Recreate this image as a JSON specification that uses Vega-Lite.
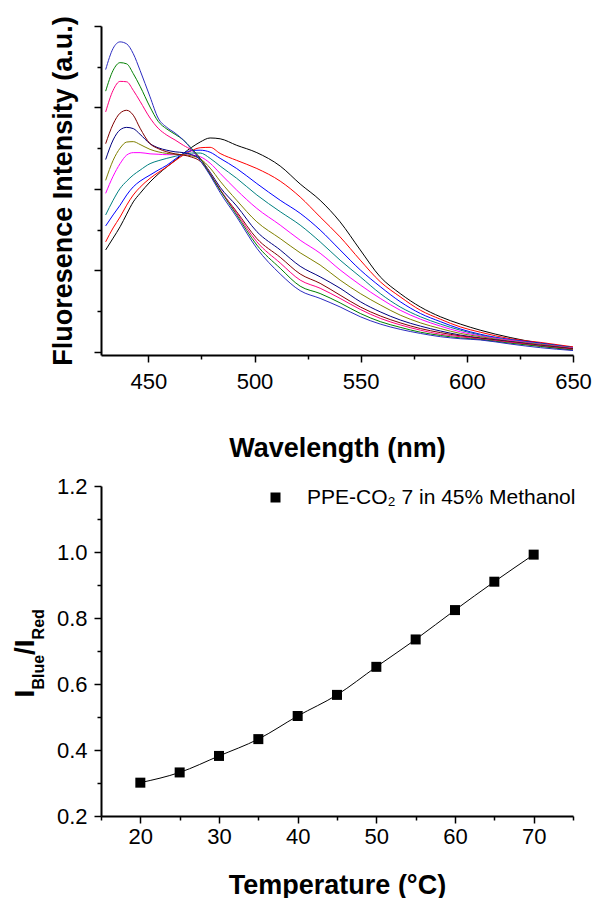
{
"$schema": "https://vega.github.io/schema/vega-lite/v6.json",
"padding": {"left": 11, "top": 15, "right": 0, "bottom": 0},
"background": "white",
"bounds": "flush",
"spacing": 131,
"resolve": {"scale": {"color": "independent"}, "legend": {"color": "independent"}},
"config": {
  "view": {"stroke": null},
  "font": "Liberation Sans",
  "axis": {"grid": false, "domainColor": "black", "domainWidth": 2, "tickColor": "black", "tickWidth": 1.5, "labelFont": "Liberation Sans", "labelFontSize": 22, "labelColor": "black", "titleFont": "Liberation Sans", "titleFontSize": 27, "titleFontWeight": "bold", "titleColor": "black"}
},
"vconcat": [
{
  "width": 472, "height": 329,
  "data": {"values": [
{"c":"s1","w":429.9,"v":2.50},{"c":"s1","w":433.4,"v":2.79},{"c":"s1","w":436.7,"v":3.07},{"c":"s1","w":439.8,"v":3.38},{"c":"s1","w":442.9,"v":3.68},{"c":"s1","w":446.1,"v":3.89},{"c":"s1","w":450.8,"v":4.17},{"c":"s1","w":454.6,"v":4.36},{"c":"s1","w":458.7,"v":4.54},{"c":"s1","w":462.6,"v":4.70},{"c":"s1","w":466.5,"v":4.87},{"c":"s1","w":470.4,"v":5.02},{"c":"s1","w":474.4,"v":5.15},{"c":"s1","w":479.1,"v":5.25},{"c":"s1","w":483.8,"v":5.23},{"c":"s1","w":491.6,"v":5.07},{"c":"s1","w":501.1,"v":4.89},{"c":"s1","w":512.1,"v":4.56},{"c":"s1","w":521.5,"v":4.12},{"c":"s1","w":530.9,"v":3.72},{"c":"s1","w":540.3,"v":3.19},{"c":"s1","w":549.8,"v":2.50},{"c":"s1","w":559.2,"v":1.84},{"c":"s1","w":568.6,"v":1.43},{"c":"s1","w":578.1,"v":1.10},{"c":"s1","w":587.5,"v":0.86},{"c":"s1","w":596.9,"v":0.68},{"c":"s1","w":606.3,"v":0.53},{"c":"s1","w":620.4,"v":0.35},{"c":"s1","w":634.6,"v":0.21},{"c":"s1","w":650,"v":0.11},
{"c":"s2","w":429.9,"v":2.70},{"c":"s2","w":433.4,"v":3.04},{"c":"s2","w":436.7,"v":3.31},{"c":"s2","w":439.8,"v":3.60},{"c":"s2","w":442.9,"v":3.85},{"c":"s2","w":446.1,"v":4.04},{"c":"s2","w":450.8,"v":4.26},{"c":"s2","w":454.6,"v":4.40},{"c":"s2","w":458.7,"v":4.54},{"c":"s2","w":462.6,"v":4.69},{"c":"s2","w":466.5,"v":4.83},{"c":"s2","w":470.4,"v":4.94},{"c":"s2","w":474.4,"v":5.01},{"c":"s2","w":479.1,"v":5.02},{"c":"s2","w":483.8,"v":4.87},{"c":"s2","w":491.6,"v":4.70},{"c":"s2","w":501.1,"v":4.50},{"c":"s2","w":512.1,"v":4.19},{"c":"s2","w":521.5,"v":3.80},{"c":"s2","w":530.9,"v":3.31},{"c":"s2","w":540.3,"v":2.82},{"c":"s2","w":549.8,"v":2.25},{"c":"s2","w":559.2,"v":1.72},{"c":"s2","w":568.6,"v":1.35},{"c":"s2","w":578.1,"v":1.02},{"c":"s2","w":587.5,"v":0.80},{"c":"s2","w":596.9,"v":0.61},{"c":"s2","w":606.3,"v":0.48},{"c":"s2","w":620.4,"v":0.32},{"c":"s2","w":634.6,"v":0.23},{"c":"s2","w":650,"v":0.12},
{"c":"s3","w":429.9,"v":3.09},{"c":"s3","w":433.4,"v":3.36},{"c":"s3","w":436.7,"v":3.60},{"c":"s3","w":439.8,"v":3.85},{"c":"s3","w":442.9,"v":4.05},{"c":"s3","w":446.1,"v":4.19},{"c":"s3","w":450.8,"v":4.34},{"c":"s3","w":454.6,"v":4.46},{"c":"s3","w":458.7,"v":4.58},{"c":"s3","w":462.6,"v":4.73},{"c":"s3","w":466.5,"v":4.87},{"c":"s3","w":470.4,"v":4.94},{"c":"s3","w":474.4,"v":4.95},{"c":"s3","w":479.1,"v":4.90},{"c":"s3","w":483.8,"v":4.75},{"c":"s3","w":491.6,"v":4.50},{"c":"s3","w":501.1,"v":4.13},{"c":"s3","w":512.1,"v":3.72},{"c":"s3","w":521.5,"v":3.40},{"c":"s3","w":530.9,"v":2.99},{"c":"s3","w":540.3,"v":2.50},{"c":"s3","w":549.8,"v":2.01},{"c":"s3","w":559.2,"v":1.60},{"c":"s3","w":568.6,"v":1.23},{"c":"s3","w":578.1,"v":0.94},{"c":"s3","w":587.5,"v":0.74},{"c":"s3","w":596.9,"v":0.56},{"c":"s3","w":606.3,"v":0.43},{"c":"s3","w":620.4,"v":0.30},{"c":"s3","w":634.6,"v":0.21},{"c":"s3","w":650,"v":0.10},
{"c":"s4","w":429.9,"v":3.36},{"c":"s4","w":433.4,"v":3.72},{"c":"s4","w":436.7,"v":4.01},{"c":"s4","w":439.8,"v":4.19},{"c":"s4","w":442.9,"v":4.34},{"c":"s4","w":446.1,"v":4.46},{"c":"s4","w":450.8,"v":4.62},{"c":"s4","w":454.6,"v":4.69},{"c":"s4","w":458.7,"v":4.75},{"c":"s4","w":462.6,"v":4.80},{"c":"s4","w":466.5,"v":4.85},{"c":"s4","w":470.4,"v":4.88},{"c":"s4","w":474.4,"v":4.88},{"c":"s4","w":479.1,"v":4.75},{"c":"s4","w":483.8,"v":4.56},{"c":"s4","w":491.6,"v":4.26},{"c":"s4","w":501.1,"v":3.85},{"c":"s4","w":512.1,"v":3.44},{"c":"s4","w":521.5,"v":3.11},{"c":"s4","w":530.9,"v":2.70},{"c":"s4","w":540.3,"v":2.25},{"c":"s4","w":549.8,"v":1.84},{"c":"s4","w":559.2,"v":1.43},{"c":"s4","w":568.6,"v":1.10},{"c":"s4","w":578.1,"v":0.86},{"c":"s4","w":587.5,"v":0.68},{"c":"s4","w":596.9,"v":0.53},{"c":"s4","w":606.3,"v":0.41},{"c":"s4","w":620.4,"v":0.29},{"c":"s4","w":634.6,"v":0.20},{"c":"s4","w":650,"v":0.10},
{"c":"s5","w":429.9,"v":3.89},{"c":"s5","w":433.4,"v":4.31},{"c":"s5","w":436.7,"v":4.62},{"c":"s5","w":439.8,"v":4.83},{"c":"s5","w":442.9,"v":4.89},{"c":"s5","w":446.1,"v":4.89},{"c":"s5","w":450.8,"v":4.86},{"c":"s5","w":454.6,"v":4.85},{"c":"s5","w":458.7,"v":4.84},{"c":"s5","w":462.6,"v":4.84},{"c":"s5","w":466.5,"v":4.84},{"c":"s5","w":470.4,"v":4.83},{"c":"s5","w":474.4,"v":4.79},{"c":"s5","w":479.1,"v":4.63},{"c":"s5","w":483.8,"v":4.38},{"c":"s5","w":491.6,"v":3.97},{"c":"s5","w":501.1,"v":3.52},{"c":"s5","w":512.1,"v":3.11},{"c":"s5","w":521.5,"v":2.74},{"c":"s5","w":530.9,"v":2.42},{"c":"s5","w":540.3,"v":2.01},{"c":"s5","w":549.8,"v":1.64},{"c":"s5","w":559.2,"v":1.31},{"c":"s5","w":568.6,"v":1.02},{"c":"s5","w":578.1,"v":0.80},{"c":"s5","w":587.5,"v":0.63},{"c":"s5","w":596.9,"v":0.49},{"c":"s5","w":606.3,"v":0.39},{"c":"s5","w":620.4,"v":0.28},{"c":"s5","w":634.6,"v":0.19},{"c":"s5","w":650,"v":0.09},
{"c":"s6","w":429.9,"v":4.21},{"c":"s6","w":433.4,"v":4.70},{"c":"s6","w":436.7,"v":5.00},{"c":"s6","w":439.8,"v":5.15},{"c":"s6","w":442.9,"v":5.16},{"c":"s6","w":446.1,"v":5.09},{"c":"s6","w":450.8,"v":4.97},{"c":"s6","w":454.6,"v":4.91},{"c":"s6","w":458.7,"v":4.87},{"c":"s6","w":462.6,"v":4.85},{"c":"s6","w":466.5,"v":4.84},{"c":"s6","w":470.4,"v":4.81},{"c":"s6","w":474.4,"v":4.74},{"c":"s6","w":479.1,"v":4.51},{"c":"s6","w":483.8,"v":4.19},{"c":"s6","w":491.6,"v":3.72},{"c":"s6","w":501.1,"v":3.19},{"c":"s6","w":512.1,"v":2.78},{"c":"s6","w":521.5,"v":2.43},{"c":"s6","w":530.9,"v":2.13},{"c":"s6","w":540.3,"v":1.76},{"c":"s6","w":549.8,"v":1.43},{"c":"s6","w":559.2,"v":1.15},{"c":"s6","w":568.6,"v":0.90},{"c":"s6","w":578.1,"v":0.71},{"c":"s6","w":587.5,"v":0.57},{"c":"s6","w":596.9,"v":0.45},{"c":"s6","w":606.3,"v":0.37},{"c":"s6","w":620.4,"v":0.26},{"c":"s6","w":634.6,"v":0.18},{"c":"s6","w":650,"v":0.08},
{"c":"s7","w":429.9,"v":4.72},{"c":"s7","w":433.4,"v":5.20},{"c":"s7","w":436.7,"v":5.45},{"c":"s7","w":439.8,"v":5.51},{"c":"s7","w":442.9,"v":5.48},{"c":"s7","w":446.1,"v":5.34},{"c":"s7","w":450.8,"v":5.11},{"c":"s7","w":454.6,"v":5.01},{"c":"s7","w":458.7,"v":4.95},{"c":"s7","w":462.6,"v":4.91},{"c":"s7","w":466.5,"v":4.89},{"c":"s7","w":470.4,"v":4.84},{"c":"s7","w":474.4,"v":4.73},{"c":"s7","w":479.1,"v":4.41},{"c":"s7","w":483.8,"v":4.04},{"c":"s7","w":491.6,"v":3.58},{"c":"s7","w":501.1,"v":2.95},{"c":"s7","w":512.1,"v":2.50},{"c":"s7","w":521.5,"v":2.10},{"c":"s7","w":530.9,"v":1.84},{"c":"s7","w":540.3,"v":1.56},{"c":"s7","w":549.8,"v":1.23},{"c":"s7","w":559.2,"v":0.98},{"c":"s7","w":568.6,"v":0.78},{"c":"s7","w":578.1,"v":0.63},{"c":"s7","w":587.5,"v":0.51},{"c":"s7","w":596.9,"v":0.41},{"c":"s7","w":606.3,"v":0.34},{"c":"s7","w":620.4,"v":0.25},{"c":"s7","w":634.6,"v":0.16},{"c":"s7","w":650,"v":0.07},
{"c":"s8","w":429.9,"v":5.11},{"c":"s8","w":433.4,"v":5.59},{"c":"s8","w":436.7,"v":5.86},{"c":"s8","w":439.8,"v":5.93},{"c":"s8","w":442.9,"v":5.81},{"c":"s8","w":446.1,"v":5.49},{"c":"s8","w":450.8,"v":5.11},{"c":"s8","w":454.6,"v":4.99},{"c":"s8","w":458.7,"v":4.91},{"c":"s8","w":462.6,"v":4.86},{"c":"s8","w":466.5,"v":4.83},{"c":"s8","w":470.4,"v":4.78},{"c":"s8","w":474.4,"v":4.68},{"c":"s8","w":479.1,"v":4.36},{"c":"s8","w":483.8,"v":3.97},{"c":"s8","w":491.6,"v":3.44},{"c":"s8","w":501.1,"v":2.78},{"c":"s8","w":512.1,"v":2.32},{"c":"s8","w":521.5,"v":1.91},{"c":"s8","w":530.9,"v":1.68},{"c":"s8","w":540.3,"v":1.39},{"c":"s8","w":549.8,"v":1.10},{"c":"s8","w":559.2,"v":0.88},{"c":"s8","w":568.6,"v":0.71},{"c":"s8","w":578.1,"v":0.57},{"c":"s8","w":587.5,"v":0.47},{"c":"s8","w":596.9,"v":0.39},{"c":"s8","w":606.3,"v":0.33},{"c":"s8","w":620.4,"v":0.24},{"c":"s8","w":634.6,"v":0.15},{"c":"s8","w":650,"v":0.07},
{"c":"s9","w":429.9,"v":5.89},{"c":"s9","w":433.4,"v":6.42},{"c":"s9","w":436.7,"v":6.64},{"c":"s9","w":439.8,"v":6.63},{"c":"s9","w":442.9,"v":6.42},{"c":"s9","w":446.1,"v":6.15},{"c":"s9","w":450.8,"v":5.74},{"c":"s9","w":454.6,"v":5.49},{"c":"s9","w":458.7,"v":5.32},{"c":"s9","w":462.6,"v":5.20},{"c":"s9","w":466.5,"v":5.07},{"c":"s9","w":470.4,"v":4.95},{"c":"s9","w":474.4,"v":4.75},{"c":"s9","w":479.1,"v":4.38},{"c":"s9","w":483.8,"v":3.99},{"c":"s9","w":491.6,"v":3.40},{"c":"s9","w":501.1,"v":2.70},{"c":"s9","w":512.1,"v":2.18},{"c":"s9","w":521.5,"v":1.76},{"c":"s9","w":530.9,"v":1.56},{"c":"s9","w":540.3,"v":1.31},{"c":"s9","w":549.8,"v":1.04},{"c":"s9","w":559.2,"v":0.82},{"c":"s9","w":568.6,"v":0.66},{"c":"s9","w":578.1,"v":0.53},{"c":"s9","w":587.5,"v":0.43},{"c":"s9","w":596.9,"v":0.37},{"c":"s9","w":606.3,"v":0.31},{"c":"s9","w":620.4,"v":0.23},{"c":"s9","w":634.6,"v":0.14},{"c":"s9","w":650,"v":0.05},
{"c":"s10","w":429.9,"v":6.40},{"c":"s10","w":433.4,"v":6.91},{"c":"s10","w":436.7,"v":7.10},{"c":"s10","w":439.8,"v":7.07},{"c":"s10","w":442.9,"v":6.83},{"c":"s10","w":446.1,"v":6.52},{"c":"s10","w":450.8,"v":6.01},{"c":"s10","w":454.6,"v":5.66},{"c":"s10","w":458.7,"v":5.47},{"c":"s10","w":462.6,"v":5.34},{"c":"s10","w":466.5,"v":5.20},{"c":"s10","w":470.4,"v":4.99},{"c":"s10","w":474.4,"v":4.75},{"c":"s10","w":479.1,"v":4.36},{"c":"s10","w":483.8,"v":3.97},{"c":"s10","w":491.6,"v":3.36},{"c":"s10","w":501.1,"v":2.62},{"c":"s10","w":512.1,"v":2.05},{"c":"s10","w":521.5,"v":1.61},{"c":"s10","w":530.9,"v":1.43},{"c":"s10","w":540.3,"v":1.20},{"c":"s10","w":549.8,"v":0.94},{"c":"s10","w":559.2,"v":0.74},{"c":"s10","w":568.6,"v":0.60},{"c":"s10","w":578.1,"v":0.48},{"c":"s10","w":587.5,"v":0.40},{"c":"s10","w":596.9,"v":0.34},{"c":"s10","w":606.3,"v":0.30},{"c":"s10","w":620.4,"v":0.21},{"c":"s10","w":634.6,"v":0.13},{"c":"s10","w":650,"v":0.04},
{"c":"s11","w":429.9,"v":6.93},{"c":"s11","w":433.4,"v":7.45},{"c":"s11","w":436.7,"v":7.61},{"c":"s11","w":439.8,"v":7.56},{"c":"s11","w":442.9,"v":7.32},{"c":"s11","w":446.1,"v":6.91},{"c":"s11","w":450.8,"v":6.26},{"c":"s11","w":454.6,"v":5.74},{"c":"s11","w":458.7,"v":5.51},{"c":"s11","w":462.6,"v":5.37},{"c":"s11","w":466.5,"v":5.20},{"c":"s11","w":470.4,"v":4.97},{"c":"s11","w":474.4,"v":4.70},{"c":"s11","w":479.1,"v":4.33},{"c":"s11","w":483.8,"v":3.91},{"c":"s11","w":491.6,"v":3.31},{"c":"s11","w":501.1,"v":2.54},{"c":"s11","w":512.1,"v":1.91},{"c":"s11","w":521.5,"v":1.50},{"c":"s11","w":530.9,"v":1.31},{"c":"s11","w":540.3,"v":1.10},{"c":"s11","w":549.8,"v":0.86},{"c":"s11","w":559.2,"v":0.68},{"c":"s11","w":568.6,"v":0.55},{"c":"s11","w":578.1,"v":0.45},{"c":"s11","w":587.5,"v":0.37},{"c":"s11","w":596.9,"v":0.32},{"c":"s11","w":606.3,"v":0.29},{"c":"s11","w":620.4,"v":0.19},{"c":"s11","w":634.6,"v":0.10},{"c":"s11","w":650,"v":0.03}
  ]},
  "mark": {"type": "line", "strokeWidth": 1, "interpolate": "monotone"},
  "encoding": {
    "x": {"field": "w", "type": "quantitative",
      "scale": {"domain": [427.7, 650], "nice": false, "zero": false},
      "axis": {"values": [450,475,500,525,550,575,600,625,650],
        "labelExpr": "datum.value % 50 === 0 ? datum.label : ''",
        "tickSize": {"condition": {"test": "datum.value % 50 === 0", "value": 7}, "value": 4},
        "labelPadding": 9, "labelFlush": false,
        "title": "Wavelength (nm)", "titleX": 236, "titleY": 101, "titleAlign": "center", "titleBaseline": "alphabetic"}},
    "y": {"field": "v", "type": "quantitative",
      "scale": {"domain": [-0.08, 8], "nice": false, "zero": false},
      "axis": {"values": [0,1,2,3,4,5,6,7,8], "labels": false,
        "tickSize": {"condition": {"test": "datum.value % 2 === 0", "value": 7}, "value": 4},
        "title": "Fluoresence Intensity (a.u.)", "titleX": -30, "titleY": 164.5, "titleAngle": 270, "titleAlign": "center", "titleBaseline": "alphabetic"}},
    "color": {"field": "c", "type": "nominal",
      "scale": {"domain": ["s1","s2","s3","s4","s5","s6","s7","s8","s9","s10","s11"],
        "range": ["#000000","#FF0000","#0000FF","#008080","#FF00FF","#808000","#000080","#800000","#FF0080","#008000","#2B2BC0"]},
      "legend": null}
  }
},
{
  "width": 472, "height": 330,
  "data": {"values": [
    {"t": 20, "r": 0.301, "s": "PPE-CO₂ 7 in 45% Methanol"},
    {"t": 25, "r": 0.332, "s": "PPE-CO₂ 7 in 45% Methanol"},
    {"t": 30, "r": 0.382, "s": "PPE-CO₂ 7 in 45% Methanol"},
    {"t": 35, "r": 0.433, "s": "PPE-CO₂ 7 in 45% Methanol"},
    {"t": 40, "r": 0.503, "s": "PPE-CO₂ 7 in 45% Methanol"},
    {"t": 45, "r": 0.567, "s": "PPE-CO₂ 7 in 45% Methanol"},
    {"t": 50, "r": 0.652, "s": "PPE-CO₂ 7 in 45% Methanol"},
    {"t": 55, "r": 0.735, "s": "PPE-CO₂ 7 in 45% Methanol"},
    {"t": 60, "r": 0.824, "s": "PPE-CO₂ 7 in 45% Methanol"},
    {"t": 65, "r": 0.910, "s": "PPE-CO₂ 7 in 45% Methanol"},
    {"t": 70, "r": 0.992, "s": "PPE-CO₂ 7 in 45% Methanol"}
  ]},
  "encoding": {
    "x": {"field": "t", "type": "quantitative",
      "scale": {"domain": [15, 75], "nice": false, "zero": false},
      "axis": {"values": [15,20,25,30,35,40,45,50,55,60,65,70,75],
        "labelExpr": "datum.value % 10 === 0 ? datum.label : ''",
        "tickSize": {"condition": {"test": "datum.value % 10 === 0", "value": 7}, "value": 4},
        "labelPadding": 3, "labelFlush": false,
        "title": "Temperature (°C)", "titleX": 236, "titleY": 77, "titleAlign": "center", "titleBaseline": "alphabetic"}}
  },
  "layer": [
    {
      "mark": {"type": "line", "color": "black", "strokeWidth": 1, "interpolate": "monotone"},
      "encoding": {
        "y": {"field": "r", "type": "quantitative",
          "scale": {"domain": [0.2, 1.2], "nice": false, "zero": false},
          "axis": {"orient": "left", "values": [0.2,0.3,0.4,0.5,0.6,0.7,0.8,0.9,1.0,1.1,1.2], "format": ".1f",
            "labelExpr": "round(datum.value*10) % 2 === 0 ? datum.label : ''",
            "tickSize": {"condition": {"test": "round(datum.value*10) % 2 === 0", "value": 7}, "value": 4},
            "labelPadding": 7, "labelFlush": false,
            "title": "I", "titleFontSize": 28, "titleX": -67.7, "titleY": 211, "titleAngle": 270, "titleAlign": "left", "titleBaseline": "alphabetic"}}
      }
    },
    {
      "mark": {"type": "point", "shape": "square", "filled": true, "size": 100, "opacity": 1},
      "encoding": {
        "y": {"field": "r", "type": "quantitative",
          "scale": {"domain": [0.2, 1.2], "nice": false, "zero": false},
          "axis": {"orient": "left", "domain": false, "ticks": false, "labels": false,
            "title": "Blue", "titleFontSize": 16, "titleX": -57.7, "titleY": 203, "titleAngle": 270, "titleAlign": "left", "titleBaseline": "alphabetic"}},
        "color": {"field": "s", "type": "nominal", "scale": {"range": ["#000000"]},
          "legend": {"orient": "none", "legendX": 164, "legendY": 1, "title": null,
            "symbolType": "square", "symbolSize": 100, "symbolFillColor": "#000000",
            "labelFont": "Liberation Sans", "labelFontSize": 21, "labelColor": "black", "labelOffset": 21, "labelLimit": 400}}
      }
    },
    {
      "mark": {"type": "line", "opacity": 0},
      "encoding": {
        "y": {"field": "r", "type": "quantitative",
          "scale": {"domain": [0.2, 1.2], "nice": false, "zero": false},
          "axis": {"orient": "left", "domain": false, "ticks": false, "labels": false,
            "title": "/I", "titleFontSize": 28, "titleX": -67.7, "titleY": 168.5, "titleAngle": 270, "titleAlign": "left", "titleBaseline": "alphabetic"}}
      }
    },
    {
      "mark": {"type": "line", "opacity": 0},
      "encoding": {
        "y": {"field": "r", "type": "quantitative",
          "scale": {"domain": [0.2, 1.2], "nice": false, "zero": false},
          "axis": {"orient": "left", "domain": false, "ticks": false, "labels": false,
            "title": "Red", "titleFontSize": 16, "titleX": -57.7, "titleY": 152.9, "titleAngle": 270, "titleAlign": "left", "titleBaseline": "alphabetic"}}
      }
    }
  ],
  "resolve": {"axis": {"y": "independent"}}
}
]
}
